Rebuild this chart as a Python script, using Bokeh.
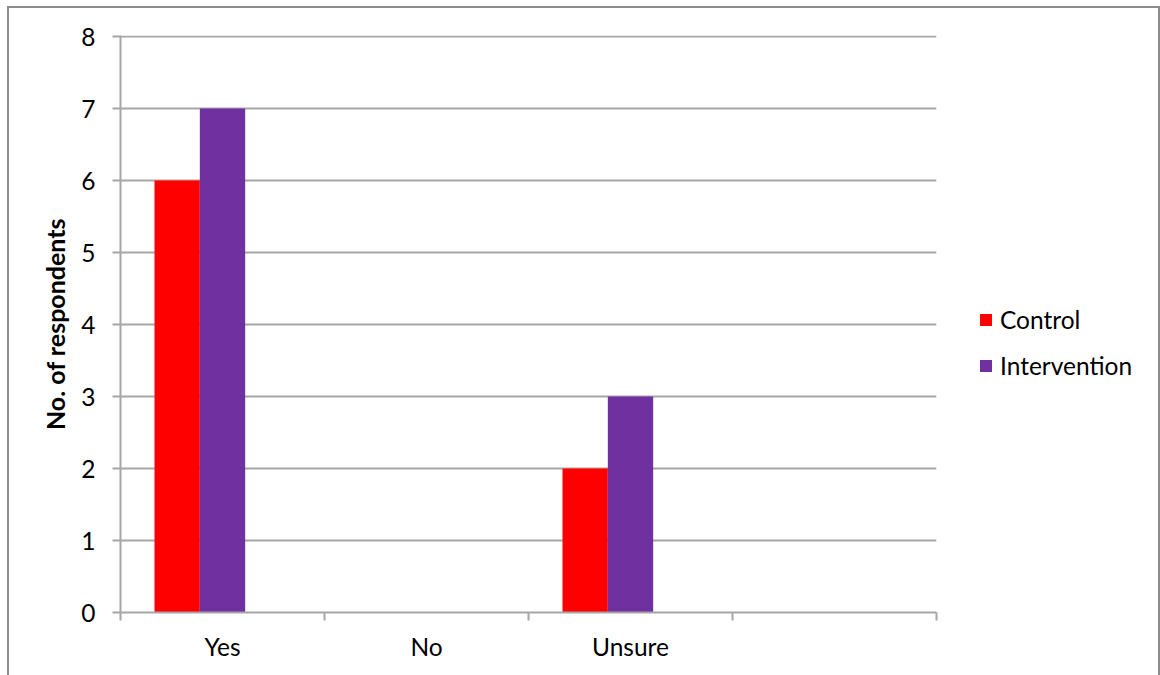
from bokeh.plotting import figure
from bokeh.layouts import row
from bokeh.models import (ColumnDataSource, FixedTicker, LinearAxis, Legend, LegendItem,
                          Grid, Range1d)
from bokeh.embed import file_html
from bokeh.resources import INLINE

# ---- data ----
categories = ["Yes", "No", "Unsure", ""]
control = [6, 0, 2, 0]
intervention = [7, 0, 3, 0]
series_names = ["Control", "Intervention"]
series_colors = ["#FF0000", "#7030A0"]
y_ticks = [0, 1, 2, 3, 4, 5, 6, 7, 8]

FONT = "Lato"
FS = "24.5px"
n_cat = len(categories)
bar_w = 1 / 4.5  # three series slots with 150% gap
centers = [i + 0.5 for i in range(n_cat)]

p = figure(width=938, height=675, output_backend="svg", toolbar_location=None,
           x_range=Range1d(0, n_cat), y_range=Range1d(0, max(y_ticks) + 1 / 72),
           x_axis_type=None, y_axis_type=None,
           min_border_left=120, min_border_right=2, min_border_top=35, min_border_bottom=63)
p.outline_line_color = None
p.background_fill_color = "white"
p.border_fill_color = None

grid_col = "#A6A6A6"
p.add_layout(Grid(dimension=1, ticker=FixedTicker(ticks=y_ticks),
                  grid_line_color=grid_col, grid_line_width=2))

renderers = []
for vals, off, col in [(control, -bar_w, series_colors[0]), (intervention, 0.0, series_colors[1])]:
    src = ColumnDataSource(dict(x=[c + off for c in centers], top=vals))
    r = p.vbar(x="x", top="top", width=bar_w, source=src, fill_color=col, line_color=None)
    renderers.append(r)

# y axis
yax = LinearAxis(ticker=FixedTicker(ticks=y_ticks))
yax.axis_line_color = grid_col
yax.axis_line_width = 2
yax.major_tick_line_color = grid_col
yax.major_tick_line_width = 2
yax.major_tick_out = 8
yax.major_tick_in = 0
yax.minor_tick_line_color = None
yax.major_label_standoff = 17
yax.major_label_text_font = FONT
yax.major_label_text_font_size = FS
yax.major_label_text_color = "black"
yax.axis_label = "No. of respondents"
yax.axis_label_text_font = FONT
yax.axis_label_text_font_style = "bold"
yax.axis_label_text_font_size = "25px"
yax.axis_label_text_color = "black"
yax.axis_label_standoff = 8
p.add_layout(yax, "left")

# x axis
xax = LinearAxis(ticker=FixedTicker(ticks=centers[:3], minor_ticks=list(range(n_cat + 1))))
xax.major_label_overrides = {c: lab for c, lab in zip(centers, categories)}
xax.axis_line_color = grid_col
xax.axis_line_width = 2
xax.major_tick_line_color = None
xax.major_tick_out = 0
xax.major_tick_in = 0
xax.minor_tick_line_color = grid_col
xax.minor_tick_line_width = 2
xax.minor_tick_out = 8
xax.minor_tick_in = 0
xax.major_label_standoff = 11
xax.major_label_text_font = FONT
xax.major_label_text_font_size = FS
xax.major_label_text_color = "black"
p.add_layout(xax, "below")

# legend panel (proxy glyphs lie outside the visible range)
q = figure(width=222, height=675, output_backend="svg", toolbar_location=None,
           x_range=Range1d(0, 1), y_range=Range1d(0, 1), x_axis_type=None, y_axis_type=None,
           min_border=0)
q.outline_line_color = None
q.background_fill_color = None
q.border_fill_color = None
q.xgrid.grid_line_color = None
q.ygrid.grid_line_color = None
leg_renderers = [q.vbar(x=[-10], top=[-10], bottom=[-11], width=0.1, fill_color=c, line_color=None)
                 for c in series_colors]

legend = Legend(items=[LegendItem(label=n, renderers=[r]) for n, r in zip(series_names, leg_renderers)],
                location=(40, 232))
legend.padding = 0
legend.margin = 0
legend.border_line_color = None
legend.background_fill_alpha = 0
legend.glyph_width = 15
legend.glyph_height = 15
legend.label_standoff = 7
legend.spacing = 17
legend.label_text_font = FONT
legend.label_text_font_size = FS
legend.label_text_color = "black"
q.add_layout(legend, "center")

line_col = "#8C8C8C"
layout = row(p, q, spacing=0)
layout.styles = {
    "background": (
        f"linear-gradient({line_col},{line_col}) 7px 6px / 2px 720px no-repeat, "
        f"linear-gradient({line_col},{line_col}) 7px 6px / 1153px 2px no-repeat, "
        f"linear-gradient({line_col},{line_col}) 1158px 6px / 2px 720px no-repeat, white"
    )
}

open("out.html", "w").write(file_html(layout, INLINE))
